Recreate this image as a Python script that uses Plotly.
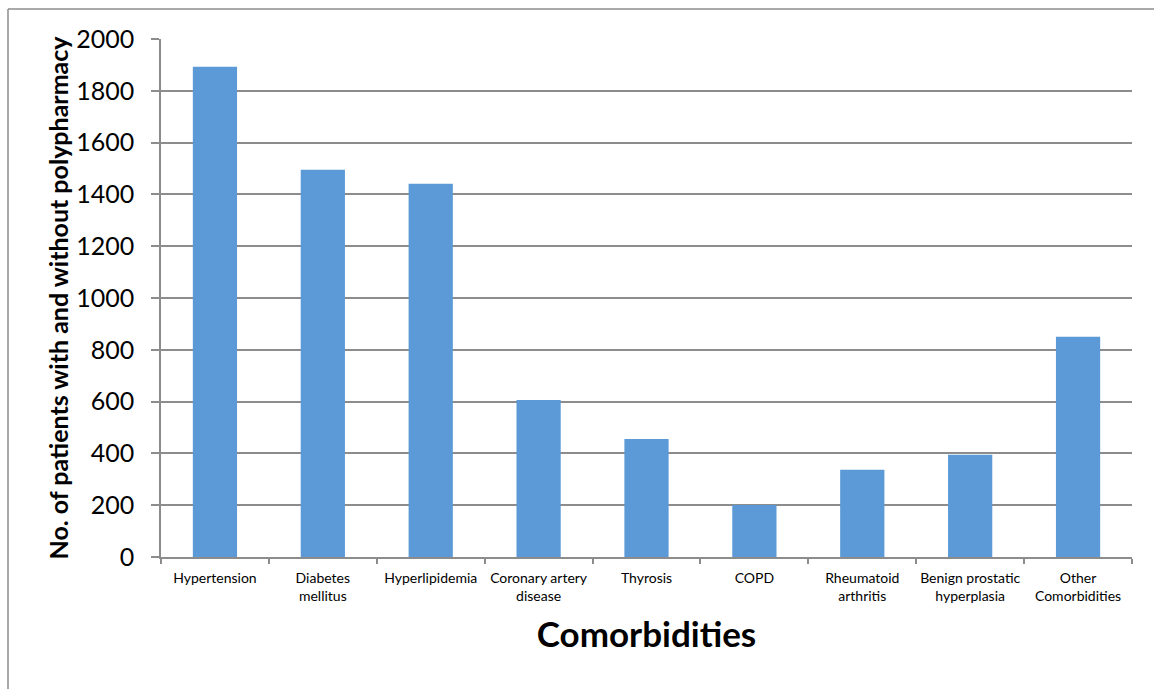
import plotly.graph_objects as go

categories = ["Hypertension", "Diabetes<br>mellitus", "Hyperlipidemia", "Coronary artery<br>disease",
              "Thyrosis", "COPD", "Rheumatoid<br>arthritis", "Benign prostatic<br>hyperplasia",
              "Other<br>Comorbidities"]
values = [1893, 1495, 1441, 606, 456, 201, 337, 395, 850]
y_ticks = [0, 200, 400, 600, 800, 1000, 1200, 1400, 1600, 1800, 2000]

FONT = "Lato, Carlito, Calibri, sans-serif"
GRID = "#8c8c8c"

fig = go.Figure()
fig.add_trace(go.Bar(x=categories, y=values, width=0.41,
                     marker=dict(color="#5b9ad6", line=dict(width=0))))

W, H = 1154, 689
L, R, T, B = 161, 22, 39, 132
pw, ph = W - L - R, H - T - B

def px(x):
    return (x - L) / pw

def py(y):
    return 1 - (y - T) / ph

fig.update_layout(
    width=W, height=H,
    margin=dict(l=L, r=R, t=T, b=B, autoexpand=False),
    paper_bgcolor="white", plot_bgcolor="white",
    showlegend=False,
    font=dict(family=FONT, color="black"),
    xaxis=dict(
        type="category", automargin=False, tickangle=0,
        showline=True, linecolor=GRID, linewidth=1.5,
        ticks="outside", tickson="boundaries", ticklen=5, tickcolor=GRID, tickwidth=1.5,
        ticklabelstandoff=7,
        tickfont=dict(size=14, family=FONT),
        title=dict(text="<b>Comorbidities</b>", font=dict(size=35, family=FONT), standoff=20),
        showgrid=False,
    ),
    yaxis=dict(
        range=[0, 2000], tickvals=y_ticks, automargin=False,
        showline=True, linecolor=GRID, linewidth=1.5,
        ticks="outside", ticklen=8, tickcolor=GRID, tickwidth=1.5,
        ticklabelstandoff=12,
        tickfont=dict(size=25, family=FONT),
        showgrid=True, gridcolor=GRID, gridwidth=1.5,
        zeroline=False,
        title=dict(text="<b>No. of patients with and without polypharmacy</b>",
                   font=dict(size=25, family=FONT), standoff=0),
    ),
)

# outer chart border (top and left edges visible)
fig.add_shape(type="line", xref="paper", yref="paper",
              x0=px(8), x1=px(1160), y0=py(9), y1=py(9),
              line=dict(color="#8c8c8c", width=1.5))
fig.add_shape(type="line", xref="paper", yref="paper",
              x0=px(8), x1=px(8), y0=py(9), y1=py(700),
              line=dict(color="#8c8c8c", width=1.5))

fig.write_html("out.html")
